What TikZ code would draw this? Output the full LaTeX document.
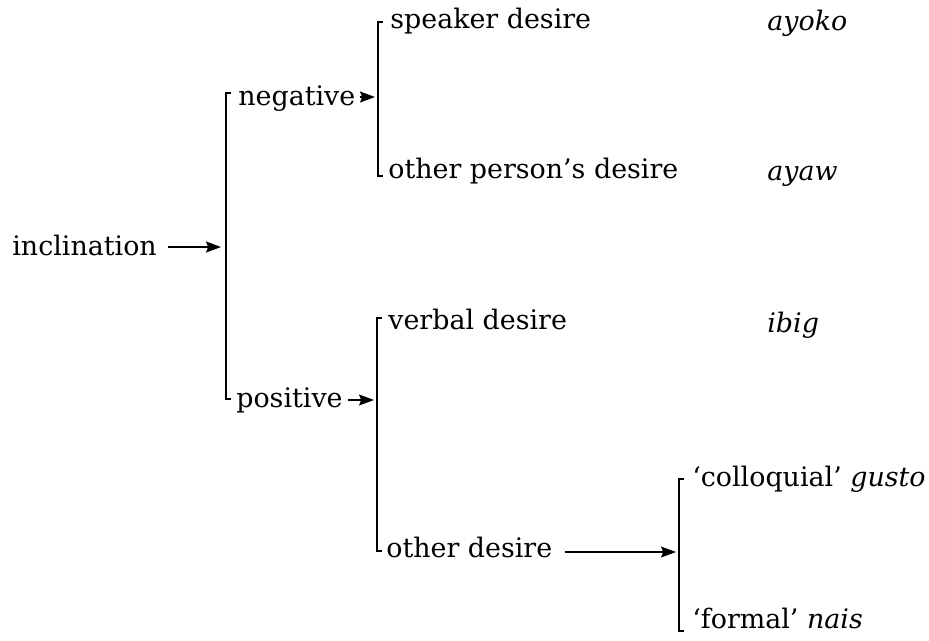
\documentclass[tikz,border=0pt]{standalone}
\usepackage{fontspec}
\setmainfont{DejaVu Serif}
\usetikzlibrary{arrows.meta,calc}
\begin{document}
\begin{tikzpicture}[x=0.02cm,y=-0.02cm,
  lbl/.style={anchor=base west,inner sep=0pt,font=\fontsize{15.3}{18}\selectfont},
  brk/.style={line width=1.1pt,line cap=butt,line join=miter},
  arr/.style={line width=0.9pt,-{Stealth[length=8.5pt,width=6.2pt,inset=1.2pt]}}]
\useasboundingbox (0,0) rectangle (929,640);

% labels (anchored on their baselines)
\node[lbl] (incl) at (12,255) {inclination};
\node[lbl] (neg)  at (238,105) {negative};
\node[lbl] (pos)  at (236,407) {positive};
\node[lbl] (spk)  at (390,28)  {speaker desire};
\node[lbl] (oth)  at (388,178) {other person’s desire};
\node[lbl] (verb) at (388,329) {verbal desire};
\node[lbl] (othd) at (386,557) {other desire};
\node[lbl] (coll) at (692,486) {‘colloquial’ \textit{gusto}};
\node[lbl] (form) at (692,628) {‘formal’ \textit{nais}};
\node[lbl] (ayoko) at (767,30)  {\textit{ayoko}};
\node[lbl] (ayaw)  at (767,180) {\textit{ayaw}};
\node[lbl] (ibig)  at (767,332) {\textit{ibig}};

% bracket end points and arrow targets
\coordinate (b1t) at (226,93);  \coordinate (b1b) at (226,399); \coordinate (b1a) at (226,247);
\coordinate (b2t) at (378,22);  \coordinate (b2b) at (378,176); \coordinate (b2a) at (378,97);
\coordinate (b3t) at (377,318); \coordinate (b3b) at (377,551); \coordinate (b3a) at (377,400);
\coordinate (b4t) at (679,479); \coordinate (b4b) at (679,631); \coordinate (b4a) at (679,552);

% brackets
\foreach \b in {b1,b2,b3,b4}
  \draw[brk] ($(\b t)+(5,0)$) -- (\b t) -- (\b b) -- ++(5,0);

% arrows into the brackets
\draw[arr] ($(incl.east |- b1a)+(11,0)$) -- ($(b1a)+(-5,0)$);
\draw[arr] ($(neg.east |- b2a)+(4,0)$)   -- ($(b2a)+(-3,0)$);
\draw[arr] ($(pos.east |- b3a)+(5,0)$)   -- ($(b3a)+(-3,0)$);
\draw[arr] ($(othd.east |- b4a)+(12,0)$) -- ($(b4a)+(-3,0)$);
\end{tikzpicture}
\end{document}
